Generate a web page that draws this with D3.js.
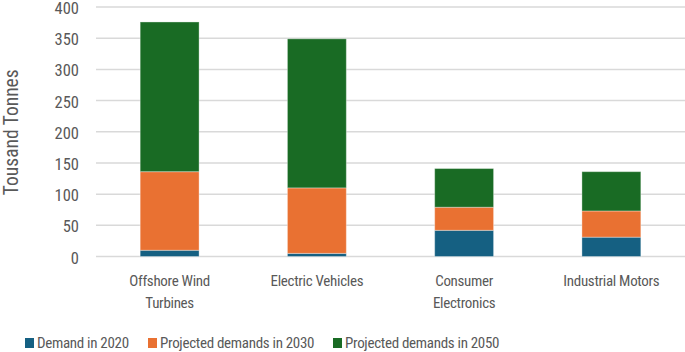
<!DOCTYPE html>
<html>
<head>
<meta charset="utf-8">
<script src="https://d3js.org/d3.v7.min.js"></script>
<style>
body { margin: 0; background: #fff; }
text { font-family: "Liberation Sans Narrow", "Roboto Condensed", sans-serif; fill: #595959; }
</style>
</head>
<body>
<div id="chart-area"></div>
<script>
var categories = ["Offshore Wind Turbines", "Electric Vehicles", "Consumer Electronics", "Industrial Motors"]
var catLines = [["Offshore Wind", "Turbines"], ["Electric Vehicles"], ["Consumer", "Electronics"], ["Industrial Motors"]]
var seriesNames = ["Demand in 2020", "Projected demands in 2030", "Projected demands in 2050"]
var demand2020 = [10, 5, 42, 31]
var demand2030 = [126, 105, 37, 42]
var demand2050 = [240, 239, 62, 63]
var yTicks = [0, 50, 100, 150, 200, 250, 300, 350, 400]
var colors = ["#156082", "#E97132", "#196B24"]

var width = 685
var height = 352
var margin = {top: 7, right: 0, bottom: 95.5, left: 96}
var innerW = width - margin.left - margin.right
var innerH = height - margin.top - margin.bottom

var svg = d3.select("#chart-area").append("svg")
.attr("width", width)
.attr("height", height)

var g = svg.append("g")
.attr("transform", "translate(" + margin.left + ", " + margin.top + ")")

var x = d3.scaleBand()
.domain(categories)
.range([0, innerW])
.paddingInner(0.6)
.paddingOuter(0.3)

var y = d3.scaleLinear()
.domain([0, 400])
.range([innerH, 0])

// gridlines
g.selectAll("line.grid")
.data(yTicks)
.enter().append("line")
.attr("class", "grid")
.attr("x1", 0)
.attr("x2", innerW)
.attr("y1", d => y(d))
.attr("y2", d => y(d))
.attr("stroke", "#d9d9d9")
.attr("stroke-width", 1.5)

// y axis labels
var yAxis = g.append("g")
.call(d3.axisLeft(y).tickValues(yTicks).tickSize(0).tickPadding(17))
yAxis.select(".domain").remove()
yAxis.selectAll("text").attr("font-size", "16.5px").style("fill", "#595959")
.attr("font-family", "'Liberation Sans Narrow', 'Roboto Condensed', sans-serif")
.attr("dy", "0.4em")

// y label
g.append("text")
.attr("transform", "rotate(-90)")
.attr("x", -(y(200) + 0.5))
.attr("y", -78)
.attr("text-anchor", "middle")
.attr("font-size", "19.5px")
.text("Tousand Tonnes")

// stacked data
var rows = categories.map((c, i) => ({cat: c, s0: demand2020[i], s1: demand2030[i], s2: demand2050[i]}))
var stack = d3.stack().keys(["s0", "s1", "s2"])(rows)

g.selectAll("g.layer")
.data(stack)
.enter().append("g")
.attr("class", "layer")
.attr("fill", (d, i) => colors[i])
.selectAll("rect")
.data(d => d)
.enter().append("rect")
.attr("x", d => x(d.data.cat))
.attr("width", x.bandwidth())
.attr("y", d => y(d[1]))
.attr("height", d => y(d[0]) - y(d[1]))
.attr("stroke", "rgba(255,255,255,0.35)")
.attr("stroke-width", 1)

// x labels
var xl = g.selectAll("text.xlab")
.data(categories)
.enter().append("text")
.attr("class", "xlab")
.attr("text-anchor", "middle")
.attr("font-size", "15px")
.attr("letter-spacing", "-0.3px")
.attr("x", d => x(d) + x.bandwidth() / 2)
.attr("y", innerH + 29)

xl.each(function(d, i) {
  var t = d3.select(this)
  catLines[i].forEach((line, j) => {
    t.append("tspan")
    .attr("x", x(d) + x.bandwidth() / 2)
    .attr("dy", j === 0 ? 0 : 22)
    .text(line)
  })
})

// legend
var legendX = [25, 148, 333]
var legend = svg.selectAll("g.legend")
.data(seriesNames)
.enter().append("g")
.attr("class", "legend")
.attr("transform", (d, i) => "translate(" + legendX[i] + ", 348)")

legend.append("rect")
.attr("x", 0)
.attr("y", -10)
.attr("width", 9)
.attr("height", 10)
.attr("fill", (d, i) => colors[i])

legend.append("text")
.attr("x", 12)
.attr("y", 0)
.attr("font-size", "15px")
.attr("letter-spacing", "-0.3px")
.text(d => d)
</script>
</body>
</html>
